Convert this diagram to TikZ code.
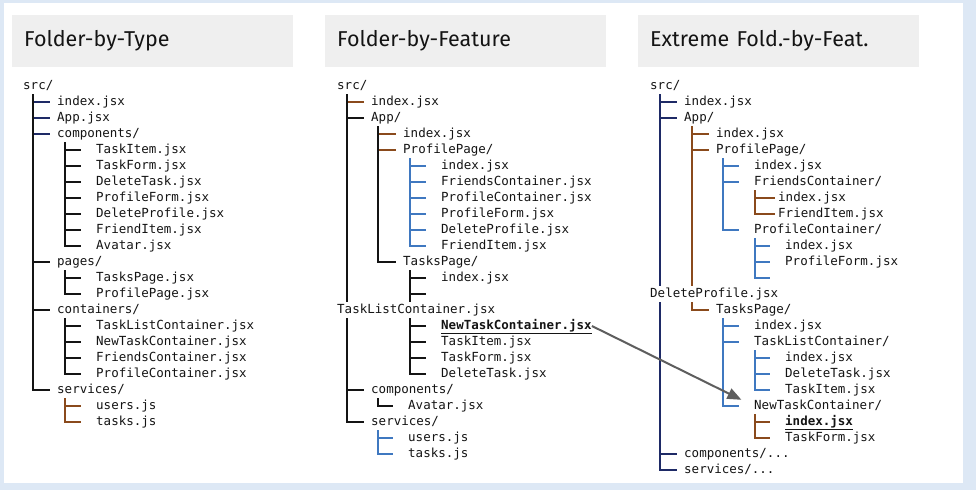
\documentclass[tikz,border=0pt]{standalone}
\usepackage{fontspec}
\setmainfont{Fira Sans}
\setmonofont{DejaVu Sans Mono}
\usetikzlibrary{arrows.meta,backgrounds}
\definecolor{pagebg}{HTML}{DDE8F5}
\definecolor{headbg}{HTML}{EFEFEF}
\definecolor{ink}{HTML}{141414}
\definecolor{linenavy}{HTML}{1E2A66}
\definecolor{linebrown}{HTML}{8A4A1C}
\definecolor{lineblue}{HTML}{3F78C0}
\definecolor{arrowgray}{HTML}{5E5E5E}

\begin{document}
\begin{tikzpicture}[x=1pt,y=-1pt,
		head/.style={fill=headbg, anchor=north west, minimum height=52pt, text width=257pt, inner xsep=12pt, align=left, text=ink, font=\fontsize{21.5}{25}\selectfont},
		item/.style={anchor=west, inner xsep=0pt, inner ysep=2pt, text height=9pt, text depth=3pt, fill=white, text=ink, font=\ttfamily\fontsize{12.5}{15}\selectfont},
		tree/.style={line width=1.1pt, shorten >=7.5pt},
		treegap/.style={tree, shorten >=15pt},
		treetight/.style={tree, shorten >=3pt},
		link/.style={draw=arrowgray, line width=2pt, -{Triangle[length=14pt,width=11pt]}, shorten >=14pt}]
		\useasboundingbox (0,0) rectangle (976,490);
		%Folder-by-Type
		\node[head] (h1) at (12,15) {Folder-by-Type};
		\node[item] (tsrc) at (23,86) {src/};
		\node[item] (tidx) at (57,102) {index.jsx};
		\node[item] (tapp) at (57,118) {App.jsx};
		\node[item] (tcomp) at (57,134) {components/};
		\node[item] (ttaskitem) at (96,150) {TaskItem.jsx};
		\node[item] (ttaskform) at (96,166) {TaskForm.jsx};
		\node[item] (tdeltask) at (96,182) {DeleteTask.jsx};
		\node[item] (tprofform) at (96,198) {ProfileForm.jsx};
		\node[item] (tdelprof) at (96,214) {DeleteProfile.jsx};
		\node[item] (tfrienditem) at (96,230) {FriendItem.jsx};
		\node[item] (tavatar) at (96,246) {Avatar.jsx};
		\node[item] (tpages) at (57,262) {pages/};
		\node[item] (ttaskspage) at (96,278) {TasksPage.jsx};
		\node[item] (tprofpage) at (96,294) {ProfilePage.jsx};
		\node[item] (tcont) at (57,310) {containers/};
		\node[item] (ttasklist) at (96,326) {TaskListContainer.jsx};
		\node[item] (tnewtask) at (96,342) {NewTaskContainer.jsx};
		\node[item] (tfriends) at (96,358) {FriendsContainer.jsx};
		\node[item] (tprofcont) at (96,374) {ProfileContainer.jsx};
		\node[item] (tserv) at (57,390) {services/};
		\node[item] (tusers) at (96,406) {users.js};
		\node[item] (ttasks) at (96,422) {tasks.js};
		%Folder-by-Feature
		\node[head] (h2) at (325,15) {Folder-by-Feature};
		\node[item] (fsrc) at (337,86) {src/};
		\node[item] (fidx) at (371,102) {index.jsx};
		\node[item] (fapp) at (371,118) {App/};
		\node[item] (fappidx) at (403,134) {index.jsx};
		\node[item] (fprof) at (403,150) {ProfilePage/};
		\node[item] (fprofidx) at (441,166) {index.jsx};
		\node[item] (ffriends) at (441,182) {FriendsContainer.jsx};
		\node[item] (fprofcont) at (441,198) {ProfileContainer.jsx};
		\node[item] (fprofform) at (441,214) {ProfileForm.jsx};
		\node[item] (fdelprof) at (441,230) {DeleteProfile.jsx};
		\node[item] (ffrienditem) at (441,246) {FriendItem.jsx};
		\node[item] (ftasks) at (403,262) {TasksPage/};
		\node[item] (ftasksidx) at (441,278) {index.jsx};
		\coordinate (fblank) at (441,294);
		\node[item] (ftasklist) at (337,310) {TaskListContainer.jsx};
		\node[item] (fnewtask) at (441,326) {\underline{\textbf{NewTaskContainer.jsx}}};
		\node[item] (ftaskitem) at (441,342) {TaskItem.jsx};
		\node[item] (ftaskform) at (441,358) {TaskForm.jsx};
		\node[item] (fdeltask) at (441,374) {DeleteTask.jsx};
		\node[item] (fcomp) at (371,390) {components/};
		\node[item] (favatar) at (408,406) {Avatar.jsx};
		\node[item] (fserv) at (371,422) {services/};
		\node[item] (fusers) at (408,438) {users.js};
		\node[item] (ftasksjs) at (408,454) {tasks.js};
		%Extreme Fold.-by-Feat.
		\node[head] (h3) at (638,15) {Extreme Fold.-by-Feat.};
		\node[item] (esrc) at (650,86) {src/};
		\node[item] (eidx) at (684,102) {index.jsx};
		\node[item] (eapp) at (684,118) {App/};
		\node[item] (eappidx) at (716,134) {index.jsx};
		\node[item] (eprof) at (716,150) {ProfilePage/};
		\node[item] (eprofidx) at (754,166) {index.jsx};
		\node[item] (efriends) at (754,182) {FriendsContainer/};
		\node[item] (efriendsidx) at (778,198) {index.jsx};
		\node[item] (efrienditem) at (778,214) {FriendItem.jsx};
		\node[item] (eprofcont) at (754,230) {ProfileContainer/};
		\node[item] (eprofcontidx) at (785,246) {index.jsx};
		\node[item] (eprofform) at (785,262) {ProfileForm.jsx};
		\coordinate (eblank) at (785,278);
		\node[item] (edelprof) at (650,294) {DeleteProfile.jsx};
		\node[item] (etasks) at (716,310) {TasksPage/};
		\node[item] (etasksidx) at (754,326) {index.jsx};
		\node[item] (etasklist) at (754,342) {TaskListContainer/};
		\node[item] (etasklistidx) at (785,358) {index.jsx};
		\node[item] (edeltask) at (785,374) {DeleteTask.jsx};
		\node[item] (etaskitem) at (785,390) {TaskItem.jsx};
		\node[item] (enewtask) at (754,406) {NewTaskContainer/};
		\node[item] (enewtaskidx) at (785,422) {\underline{\textbf{index.jsx}}};
		\node[item] (etaskform) at (785,438) {TaskForm.jsx};
		\node[item] (ecomp) at (684,454) {components/...};
		\node[item] (eserv) at (684,470) {services/...};
		\draw[link] (fnewtask.east) -- (enewtask.west);
		\begin{scope}[on background layer]
			\fill[pagebg] (0,0) rectangle (976,490);
			\fill[white] (4,3) rectangle (963,483);
			%Baumlinien links
			\draw[tree, linenavy] ([xshift=10pt]tsrc.south west) |- (tidx.west);
			\draw[tree, linenavy] ([xshift=10pt]tsrc.south west) |- (tapp.west);
			\draw[tree, linenavy] ([xshift=10pt]tsrc.south west) |- (tcomp.west);
			\draw[tree, ink] ([xshift=10pt]tsrc.south west) |- (tpages.west);
			\draw[tree, ink] ([xshift=10pt]tsrc.south west) |- (tcont.west);
			\draw[tree, ink] ([xshift=10pt]tsrc.south west) |- (tserv.west);
			\draw[treegap, ink] ([xshift=8pt]tcomp.south west) |- (ttaskitem.west);
			\draw[treegap, ink] ([xshift=8pt]tcomp.south west) |- (ttaskform.west);
			\draw[treegap, ink] ([xshift=8pt]tcomp.south west) |- (tdeltask.west);
			\draw[treegap, ink] ([xshift=8pt]tcomp.south west) |- (tprofform.west);
			\draw[treegap, ink] ([xshift=8pt]tcomp.south west) |- (tdelprof.west);
			\draw[treegap, ink] ([xshift=8pt]tcomp.south west) |- (tfrienditem.west);
			\draw[treegap, ink] ([xshift=8pt]tcomp.south west) |- (tavatar.west);
			\draw[treegap, ink] ([xshift=8pt]tpages.south west) |- (ttaskspage.west);
			\draw[treegap, ink] ([xshift=8pt]tpages.south west) |- (tprofpage.west);
			\draw[treegap, ink] ([xshift=8pt]tcont.south west) |- (ttasklist.west);
			\draw[treegap, ink] ([xshift=8pt]tcont.south west) |- (tnewtask.west);
			\draw[treegap, ink] ([xshift=8pt]tcont.south west) |- (tfriends.west);
			\draw[treegap, ink] ([xshift=8pt]tcont.south west) |- (tprofcont.west);
			\draw[treegap, linebrown] ([xshift=8pt]tserv.south west) |- (tusers.west);
			\draw[treegap, linebrown] ([xshift=8pt]tserv.south west) |- (ttasks.west);
			%Baumlinien Mitte
			\draw[tree, linebrown] ([xshift=10pt]fsrc.south west) |- (fidx.west);
			\draw[tree, ink] ([xshift=10pt]fsrc.south west) |- (fapp.west);
			\draw[tree, ink] ([xshift=10pt]fsrc.south west) |- (fcomp.west);
			\draw[tree, ink] ([xshift=10pt]fsrc.south west) |- (fserv.west);
			\draw[tree, linebrown] ([xshift=7pt]fapp.south west) |- (fappidx.west);
			\draw[tree, linebrown] ([xshift=7pt]fapp.south west) |- (fprof.west);
			\draw[tree, ink] ([xshift=7pt]fapp.south west) |- (ftasks.west);
			\draw[treegap, lineblue] ([xshift=7pt]fprof.south west) |- (fprofidx.west);
			\draw[treegap, lineblue] ([xshift=7pt]fprof.south west) |- (ffriends.west);
			\draw[treegap, lineblue] ([xshift=7pt]fprof.south west) |- (fprofcont.west);
			\draw[treegap, lineblue] ([xshift=7pt]fprof.south west) |- (fprofform.west);
			\draw[treegap, lineblue] ([xshift=7pt]fprof.south west) |- (fdelprof.west);
			\draw[treegap, lineblue] ([xshift=7pt]fprof.south west) |- (ffrienditem.west);
			\draw[treegap, ink] ([xshift=7pt]ftasks.south west) |- (ftasksidx.west);
			\draw[treegap, ink] ([xshift=7pt]ftasks.south west) |- (fblank);
			\draw[treegap, ink] ([xshift=7pt]ftasks.south west) |- (fnewtask.west);
			\draw[treegap, ink] ([xshift=7pt]ftasks.south west) |- (ftaskitem.west);
			\draw[treegap, ink] ([xshift=7pt]ftasks.south west) |- (ftaskform.west);
			\draw[treegap, ink] ([xshift=7pt]ftasks.south west) |- (fdeltask.west);
			\draw[treegap, ink] ([xshift=7pt]fcomp.south west) |- (favatar.west);
			\draw[treegap, lineblue] ([xshift=7pt]fserv.south west) |- (fusers.west);
			\draw[treegap, lineblue] ([xshift=7pt]fserv.south west) |- (ftasksjs.west);
			%Baumlinien rechts
			\draw[tree, linenavy] ([xshift=10pt]esrc.south west) |- (eidx.west);
			\draw[tree, linenavy] ([xshift=10pt]esrc.south west) |- (eapp.west);
			\draw[tree, linenavy] ([xshift=10pt]esrc.south west) |- (ecomp.west);
			\draw[tree, linenavy] ([xshift=10pt]esrc.south west) |- (eserv.west);
			\draw[tree, linebrown] ([xshift=8pt]eapp.south west) |- (eappidx.west);
			\draw[tree, linebrown] ([xshift=8pt]eapp.south west) |- (eprof.west);
			\draw[tree, linebrown] ([xshift=8pt]eapp.south west) |- (etasks.west);
			\draw[treegap, lineblue] ([xshift=7pt]eprof.south west) |- (eprofidx.west);
			\draw[treegap, lineblue] ([xshift=7pt]eprof.south west) |- (efriends.west);
			\draw[treegap, lineblue] ([xshift=7pt]eprof.south west) |- (eprofcont.west);
			\draw[treetight, linebrown] ([xshift=1pt]efriends.south west) |- (efriendsidx.west);
			\draw[treetight, linebrown] ([xshift=1pt]efriends.south west) |- (efrienditem.west);
			\draw[treegap, lineblue] ([xshift=1pt]eprofcont.south west) |- (eprofcontidx.west);
			\draw[treegap, lineblue] ([xshift=1pt]eprofcont.south west) |- (eprofform.west);
			\draw[treegap, lineblue] ([xshift=1pt]eprofcont.south west) |- (eblank);
			\draw[treegap, lineblue] ([xshift=7pt]etasks.south west) |- (etasksidx.west);
			\draw[treegap, lineblue] ([xshift=7pt]etasks.south west) |- (etasklist.west);
			\draw[treegap, lineblue] ([xshift=7pt]etasks.south west) |- (enewtask.west);
			\draw[treegap, lineblue] ([xshift=1pt]etasklist.south west) |- (etasklistidx.west);
			\draw[treegap, lineblue] ([xshift=1pt]etasklist.south west) |- (edeltask.west);
			\draw[treegap, lineblue] ([xshift=1pt]etasklist.south west) |- (etaskitem.west);
			\draw[treegap, linebrown] ([xshift=1pt]enewtask.south west) |- (enewtaskidx.west);
			\draw[treegap, linebrown] ([xshift=1pt]enewtask.south west) |- (etaskform.west);
		\end{scope}
	\end{tikzpicture}
\end{document}
